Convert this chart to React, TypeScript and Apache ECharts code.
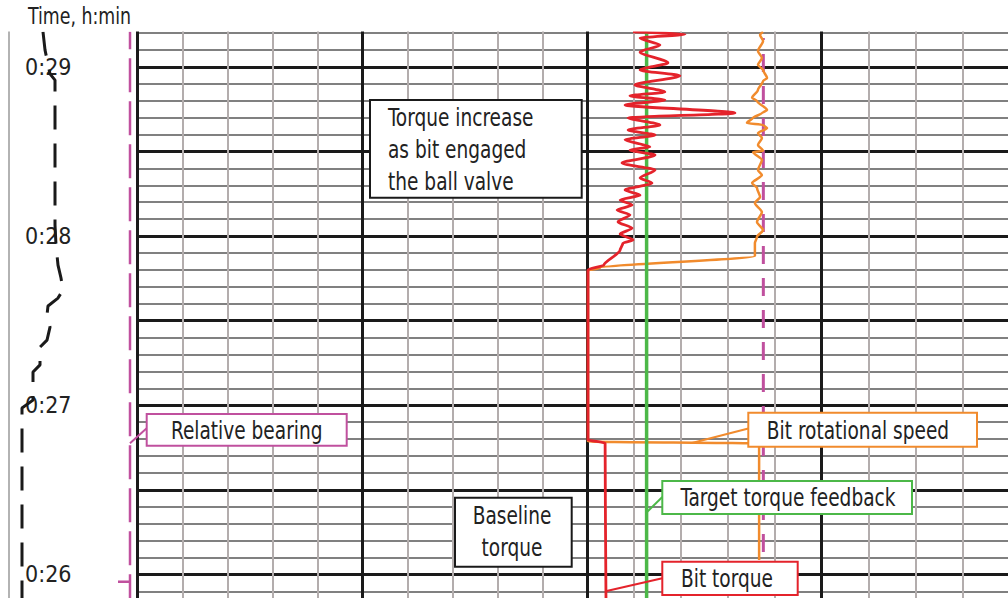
import React, { useEffect, useRef } from "react";
import * as echarts from "echarts";

const FONT = "'DejaVu Sans Condensed', 'Liberation Sans Narrow', 'Arial Narrow', 'DejaVu Sans', sans-serif";

// ---- time axis (seconds since 0:00) ----
const timeTickValues = [1560, 1620, 1680, 1740];
const timeTickLabels = ["0:26", "0:27", "0:28", "0:29"];
const axisTitle = "Time, h:min";

// ---- left (depth) track: [relative position, time s] ----
const leftDashedCurve: [number, number][] = [
  [34, 1752.4], [36, 1746.0], [41, 1737.5], [46, 1735.3], [46, 1683.9], [47, 1676.8],
  [49, 1669.7], [52, 1665.1], [54, 1660.9], [49, 1658.0], [39, 1655.2], [38, 1652.0],
  [41, 1647.7], [38, 1643.1], [31, 1640.6], [31, 1634.3], [24, 1631.8], [24, 1621.8],
  [13, 1619.0], [13, 1548],
];
const leftBearing: [number, number][] = [[121, 1548], [121, 1752.4]];
const leftBearingTick: [number, number][] = [[109, 1557.4], [121, 1557.4]];

// ---- right track: [track value, time s] ----
const bearing: [number, number][] = [[7.51, 1567.9], [7.51, 1750.2]];
const targetTorque: [number, number][] = [[2.53, 1548], [2.53, 1752.4]];
const bitRotationalSpeed: [number, number][] = [
  [7.5, 1752.4], [7.37, 1751.3], [7.5, 1749.2], [7.28, 1745.6], [7.45, 1743.1], [7.28, 1740.7],
  [7.5, 1738.9], [7.67, 1736.0], [7.5, 1735.0], [7.28, 1731.8], [7.03, 1729.0], [7.24, 1727.9],
  [7.67, 1724.7], [7.45, 1723.6], [7.07, 1721.9], [6.81, 1720.1], [7.5, 1719.4], [7.67, 1718.3],
  [7.28, 1716.5], [7.45, 1714.8], [7.28, 1712.3], [7.5, 1710.2], [7.07, 1709.8], [7.45, 1707.0],
  [7.28, 1703.4], [7.45, 1701.6], [7.03, 1698.8], [7.24, 1697.0], [7.37, 1693.8], [7.15, 1691.7],
  [7.45, 1688.5], [7.24, 1685.0], [7.5, 1682.1], [7.24, 1679.7], [7.15, 1677.5], [7.15, 1674.0],
  [7.15, 1672.9], [0.54, 1668.7], [0.03, 1667.8], [0.03, 1607.1], [7.33, 1606.4], [7.33, 1565.1],
];
const bitTorque: [number, number][] = [
  [1.95, 1752.4], [4.17, 1751.6], [2.25, 1750.2], [3.1, 1747.7], [2.25, 1745.3], [3.44, 1741.4],
  [2.25, 1738.9], [3.95, 1736.8], [2.03, 1733.6], [3.31, 1731.1], [1.82, 1729.7], [3.31, 1728.2],
  [1.61, 1726.5], [6.3, 1723.6], [1.74, 1721.9], [3.1, 1719.4], [1.74, 1717.6], [2.89, 1715.8],
  [1.61, 1714.1], [2.67, 1711.6], [1.82, 1710.5], [2.89, 1708.7], [1.48, 1705.9], [2.89, 1703.4],
  [2.25, 1700.6], [2.76, 1698.8], [1.61, 1696.3], [2.25, 1694.5], [1.4, 1692.8], [1.91, 1691.0],
  [1.27, 1689.2], [1.82, 1687.5], [1.31, 1685.0], [1.91, 1682.8], [1.4, 1680.7], [1.95, 1678.6],
  [1.52, 1677.5], [1.4, 1675.0], [0.71, 1669.7], [0.03, 1668.0], [0.03, 1607.7], [0.76, 1606.6],
  [0.8, 1548],
];

const torqueNote = ["Torque increase", "as bit engaged", "the ball valve"];
const baselineNote = ["Baseline", "torque"];
const legendNames = {
  bearing: "Relative bearing",
  speed: "Bit rotational speed",
  target: "Target torque feedback",
  torque: "Bit torque",
};

const RED = "#e4232b";
const ORANGE = "#f18b2d";
const GREEN = "#4cb848";
const PINK = "#c0509e";
const BLACK = "#1a1a1a";

// the chart canvas is larger than the page and shifted up by OFF px inside a clipping frame
const OFF = 20;
const CANVAS_H = 700;
const CANVAS_W = 1080;

export default function App() {
  const ref = useRef<HTMLDivElement>(null);
  useEffect(() => {
    if (!ref.current) return;
    const chart = echarts.init(ref.current, undefined, { renderer: "svg" });

    const tMin = 1530, tMax = 1770;
    // layout: 0:26 at page y=574.4, 169.19 px per minute
    const pxPerSec = 169.19 / 60;
    const gTop = 574.4 - (tMax - 1560) * pxPerSec + OFF;
    const gHeight = (tMax - tMin) * pxPerSec;

    const yBase = (grid: number, showLabels: boolean) => ({
      type: "value",
      gridIndex: grid,
      min: tMin,
      max: tMax,
      interval: 30,
      minorTick: { show: false, splitNumber: 5 },
      axisTick: { show: false },
      axisLine: showLabels
        ? { show: true, lineStyle: { color: "#9a9a9a", width: 1.5 } }
        : { show: false },
      axisLabel: showLabels
        ? {
            show: true,
            inside: true,
            margin: 16,
            fontFamily: FONT,
            fontSize: 23,
            color: "#222",
            formatter: (v: number) => {
              const i = timeTickValues.indexOf(v);
              return i >= 0 ? timeTickLabels[i] : "";
            },
          }
        : { show: false },
      splitLine: showLabels ? { show: false } : { show: true, lineStyle: { color: BLACK, width: 3 } },
      minorSplitLine: showLabels ? { show: false } : { show: true, lineStyle: { color: "#808080", width: 2 } },
    });

    const xTrack = (grid: number) => ({
      type: "value",
      gridIndex: grid,
      min: 0,
      max: 20,
      interval: 10,
      minorTick: { show: false, splitNumber: 5 },
      axisTick: { show: false },
      axisLine: { show: false },
      axisLabel: { show: false },
      splitLine: { show: true, lineStyle: { color: BLACK, width: 3 } },
      minorSplitLine: { show: true, lineStyle: { color: "#b3adad", width: 2 } },
    });

    const line = (name: string, x: number, y: number, data: any, color: string, width: number, type: any = "solid", z = 2, smooth = 0) => ({
      name,
      type: "line",
      xAxisIndex: x,
      yAxisIndex: y,
      data,
      symbol: "none",
      z,
      smooth,
      smoothMonotone: "y",
      lineStyle: { color, width, type },
      silent: true,
    });

    const txt = (text: string, x: number, y: number, align: string = "left", size = 24, sx = 0.86) => ({
      type: "text",
      z: 120,
      x,
      y,
      scaleX: sx,
      style: {
        text,
        x: 0,
        y: 0,
        fill: "#222",
        fontFamily: FONT,
        fontSize: size,
        font: `${size}px ${FONT}`,
        textAlign: align,
        align,
        textVerticalAlign: "middle",
        verticalAlign: "middle",
      },
    });
    const box = (x: number, y: number, w: number, h: number, color: string) => ({
      type: "rect",
      z: 110,
      shape: { x, y, width: w, height: h },
      style: { fill: "#fff", stroke: color, lineWidth: 2 },
    });
    const leader = (x1: number, y1: number, x2: number, y2: number, color: string) => ({
      type: "line",
      z: 110,
      shape: { x1, y1, x2, y2 },
      style: { stroke: color, lineWidth: 2 },
    });

    chart.setOption({
      animation: false,
      backgroundColor: "#fff",
      grid: [
        { left: 9, top: gTop, width: 128, height: gHeight },
        { left: 137.3, top: gTop, width: 450, height: gHeight },
        { left: 587.3, top: gTop, width: 468.8, height: gHeight },
      ],
      xAxis: [
        { type: "value", gridIndex: 0, min: 0, max: 128, show: false },
        xTrack(1),
        xTrack(2),
      ],
      yAxis: [yBase(0, true), yBase(1, false), yBase(2, false)],
      series: [
        line("Depth", 0, 0, leftDashedCurve, BLACK, 3, [24, 14]),
        line(legendNames.bearing, 0, 0, leftBearing, PINK, 2.5, [34, 9]),
        line(legendNames.bearing + " tick", 0, 0, leftBearingTick, PINK, 2.5),
        line(legendNames.bearing + " track", 2, 2, bearing, PINK, 3, [18, 14]),
        line(legendNames.speed, 2, 2, bitRotationalSpeed, ORANGE, 2.5, "solid", 3, 0.25),
        line(legendNames.target, 2, 2, targetTorque, GREEN, 3.5, "solid", 4),
        line(legendNames.torque, 2, 2, bitTorque, RED, 2.8, "solid", 5, 0.25),
      ],
      graphic: [
        {
          type: "group",
          x: 0,
          y: OFF,
          z: 100,
          children: [
            { type: "rect", z: 100, shape: { x: 0, y: -OFF, width: CANVAS_W, height: 31.5 + OFF }, style: { fill: "#fff" } },
            txt(axisTitle, 28, 16, "left", 23, 0.84),

            box(370, 100, 211.7, 97.7, BLACK),
            txt(torqueNote[0], 388, 117),
            txt(torqueNote[1], 388, 149),
            txt(torqueNote[2], 388, 181),

            leader(146.7, 428.3, 130, 443.3, PINK),
            box(146.7, 414, 200, 31.7, PINK),
            txt(legendNames.bearing, 246.7, 430, "center"),

            leader(748.3, 428.5, 692, 443, ORANGE),
            box(748.3, 412.7, 228.7, 34, ORANGE),
            txt(legendNames.speed, 858, 430, "center"),

            leader(662.3, 497, 646, 513, GREEN),
            box(662.3, 481, 249.7, 33, GREEN),
            txt(legendNames.target, 788, 497.5, "center"),

            box(455, 497.7, 116.7, 69, BLACK),
            txt(baselineNote[0], 512, 515, "center"),
            txt(baselineNote[1], 512, 547, "center"),

            leader(662.3, 578.3, 606.7, 591, RED),
            box(662.3, 561.7, 135.4, 33.3, RED),
            txt(legendNames.torque, 727, 578.3, "center"),
          ],
        },
      ],
    });
    return () => chart.dispose();
  }, []);
  return (
    <div style={{ position: "absolute", left: 0, top: 0, width: 1008, height: 598, overflow: "hidden" }}>
      <div
        ref={ref}
        style={{ position: "absolute", left: 0, top: -OFF, width: CANVAS_W, height: CANVAS_H }}
      />
    </div>
  );
}
